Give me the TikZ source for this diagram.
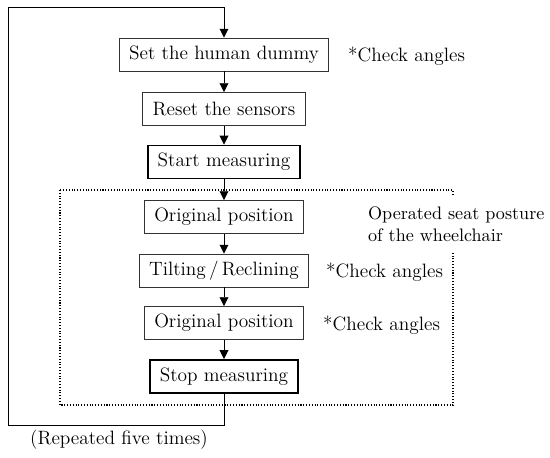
\documentclass[tikz,border=0pt]{standalone}
\usetikzlibrary{arrows.meta}

\begin{document}
\begin{tikzpicture}[x=1cm, y=1cm,
  stepbox/.style={draw=black!80, line width=0.5pt, inner xsep=0.2cm, minimum height=0.66cm, font=\fontsize{11}{13}\selectfont},
  keybox/.style={stepbox, draw=black, line width=1.1pt},
  note/.style={anchor=west, font=\fontsize{11}{13}\selectfont},
  flow/.style={line width=0.5pt, -{Triangle[width=5pt, length=5pt]}}]

\useasboundingbox (0, 0) rectangle (11, 9.16);

% Preparation steps
\node[stepbox] (set) at (4.48, 8.07) {Set the human dummy};
\node[stepbox] (reset) at (4.48, 6.98) {Reset the sensors};
\node[keybox] (start) at (4.48, 5.92) {Start measuring};

% Dotted frame for the seat posture
\draw[densely dotted, line width=0.6pt] (1.2, 5.36) rectangle (9.06, 1.06);
\node[note, fill=white, align=left, inner xsep=1pt, minimum height=1.14cm, font=\fontsize{10.3}{12.5}\selectfont] (posture) at (7.32, 4.68) {Operated seat posture\\of the wheelchair};

% Steps inside the frame
\node[stepbox] (orig1) at (4.48, 4.82) {Original position};
\node[stepbox] (tilt) at (4.48, 3.75) {Tilting\,/\,Reclining};
\node[stepbox] (orig2) at (4.48, 2.70) {Original position};
\node[keybox] (stop) at (4.48, 1.63) {Stop measuring};

% Notes
\node[note] (check1) at (6.84, 8.04) {*Check angles};
\node[note] (check2) at (6.40, 3.72) {*Check angles};
\node[note] (check3) at (6.34, 2.66) {*Check angles};

% Arrows between steps
\draw[flow] (set) -- (reset);
\draw[flow] (reset) -- (start);
\draw[flow] (start) -- (orig1);
\draw[flow] (orig1) -- (tilt);
\draw[flow] (tilt) -- (orig2);
\draw[flow] (orig2) -- (stop);

% Repeat loop
\coordinate (loopbl) at (0.17, 0.66);
\coordinate (looptl) at (0.17, 9.02);
\draw[flow] (stop.south) |- (loopbl) -- (looptl) -| (set.north);
\node[font=\fontsize{11}{13}\selectfont] (repeat) at (2.38, 0.36) {(Repeated five times)};

\end{tikzpicture}
\end{document}
